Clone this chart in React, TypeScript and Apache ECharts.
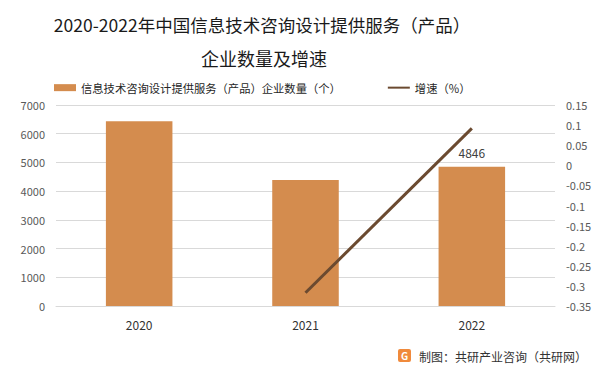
import React, { useEffect, useRef } from "react";
import * as echarts from "echarts";

const categories = ["2020", "2021", "2022"];
const enterpriseCounts = [6430, 4390, 4846];
const growthRates: (number | null)[] = [null, -0.317, 0.092];
const leftTicks = { min: 0, max: 7000, interval: 1000 };
const rightTicks = { min: -0.35, max: 0.15, interval: 0.05 };
const barName = "信息技术咨询设计提供服务（产品）企业数量（个）";
const lineName = "增速（%）";
const titleLines = ["2020-2022年中国信息技术咨询设计提供服务（产品）", "企业数量及增速"];
const footerText = "制图：共研产业咨询（共研网）";

const FONT = "'Noto Sans CJK SC', 'Noto Sans', sans-serif";

export default function App() {
  const ref = useRef<HTMLDivElement>(null);
  useEffect(() => {
    if (!ref.current) return;
    const chart = echarts.init(ref.current, undefined, { renderer: "svg" });
    chart.setOption({
      animation: false,
      backgroundColor: "#ffffff",
      textStyle: { fontFamily: FONT },
      graphic: [
        {
          type: "text",
          x: 262,
          y: 24,
          style: {
            text: titleLines[0],
            fontSize: 17.5,
            fontFamily: FONT,
            fill: "#1a1a1a",
            textAlign: "center",
            textVerticalAlign: "middle",
          },
        },
        {
          type: "text",
          x: 264,
          y: 58,
          style: {
            text: titleLines[1],
            fontSize: 18,
            fontFamily: FONT,
            fill: "#1a1a1a",
            textAlign: "center",
            textVerticalAlign: "middle",
          },
        },
        {
          type: "rect",
          x: 398,
          y: 349,
          shape: { width: 13, height: 13, r: 2 },
          style: { fill: "#f08a3c" },
        },
        {
          type: "text",
          x: 404.5,
          y: 355.5,
          style: {
            text: "G",
            fontSize: 10,
            fontWeight: "bold",
            fontFamily: FONT,
            fill: "#ffffff",
            textAlign: "center",
            textVerticalAlign: "middle",
          },
        },
        {
          type: "text",
          x: 419,
          y: 356,
          style: {
            text: footerText,
            fontSize: 12,
            fontFamily: FONT,
            fill: "#333333",
            textAlign: "left",
            textVerticalAlign: "middle",
          },
        },
      ],
      legend: {
        top: 77,
        left: 49,
        itemGap: 46,
        itemWidth: 22,
        itemHeight: 7,
        textStyle: { fontSize: 11.3, color: "#262626", fontFamily: FONT },
        data: [
          { name: barName, icon: "rect" },
          { name: lineName, itemStyle: { opacity: 0 } },
        ],
      },
      grid: { left: 56, right: 46, top: 105, bottom: 67 },
      xAxis: {
        type: "category",
        data: categories,
        axisTick: { show: false },
        axisLine: { lineStyle: { color: "#d9d9d9" } },
        axisLabel: { color: "#333333", fontSize: 12, margin: 12 },
      },
      yAxis: [
        {
          type: "value",
          min: leftTicks.min,
          max: leftTicks.max,
          interval: leftTicks.interval,
          axisLine: { show: false },
          axisTick: { show: false },
          splitLine: { lineStyle: { color: "#d9d9d9" } },
          axisLabel: {
            color: "#595959",
            fontSize: 11,
            margin: 11,
            formatter: (v: number) => String(v),
          },
        },
        {
          type: "value",
          min: rightTicks.min,
          max: rightTicks.max,
          interval: rightTicks.interval,
          axisLine: { show: false },
          axisTick: { show: false },
          splitLine: { show: false },
          axisLabel: {
            color: "#595959",
            fontSize: 11,
            margin: 11,
            formatter: (v: number) => String(parseFloat(v.toFixed(2))),
          },
        },
      ],
      series: [
        {
          name: barName,
          type: "bar",
          data: enterpriseCounts.map((v, i) => ({
            value: v,
            label: { show: i === 2 },
          })),
          barWidth: "40%",
          itemStyle: { color: "#d48c4e" },
          label: {
            position: "top",
            distance: 8,
            color: "#404040",
            fontSize: 12,
          },
        },
        {
          name: lineName,
          type: "line",
          yAxisIndex: 1,
          data: growthRates,
          symbol: "none",
          lineStyle: { color: "#6b4a30", width: 3 },
          itemStyle: { color: "#6b4a30" },
        },
      ],
    });
    return () => chart.dispose();
  }, []);
  return (
    <div
      ref={ref}
      style={{ position: "fixed", left: 0, top: 0, width: 601, height: 373 }}
    />
  );
}
